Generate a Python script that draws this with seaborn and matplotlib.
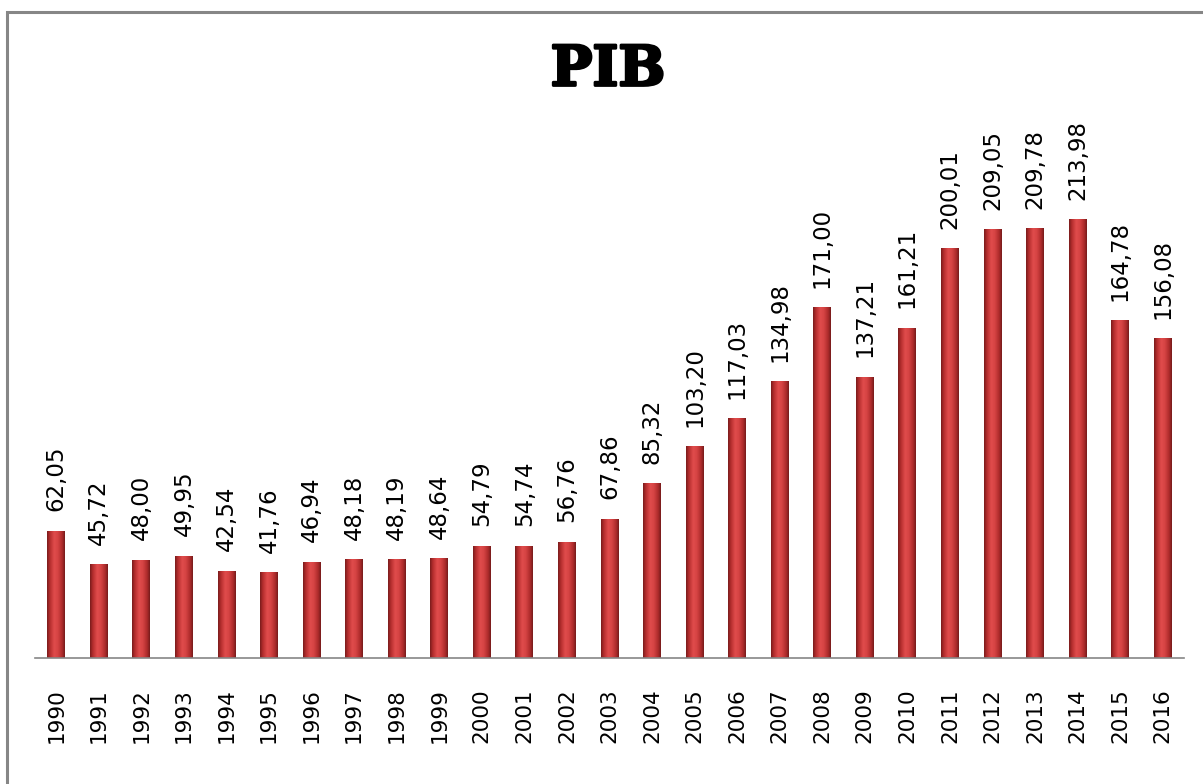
import numpy as np
import pandas as pd
import matplotlib
matplotlib.use("Agg")
import matplotlib.pyplot as plt
import matplotlib.patheffects as pe
import seaborn as sns
from matplotlib.colors import LinearSegmentedColormap
from matplotlib.patches import Rectangle

# data
years = [str(y) for y in range(1990, 2017)]
pib = [62.05, 45.72, 48.00, 49.95, 42.54, 41.76, 46.94, 48.18, 48.19, 48.64,
       54.79, 54.74, 56.76, 67.86, 85.32, 103.20, 117.03, 134.98, 171.00, 137.21,
       161.21, 200.01, 209.05, 209.78, 213.98, 164.78, 156.08]

df = pd.DataFrame({"Year": years, "PIB": pib})

sns.set_style("white")
plt.rcParams["font.family"] = ["DejaVu Sans"]

fig = plt.figure(figsize=(12.03, 7.84), dpi=100)
ax = fig.add_axes([35 / 1203, 126 / 784, 1149 / 1203, 512.5 / 784])

sns.barplot(x="Year", y="PIB", data=df, color="#c83535", width=0.42,
            edgecolor="none", ax=ax)

# fake 3D cylinder look: horizontal gradient clipped to each bar
cmap = LinearSegmentedColormap.from_list(
    "bar", [(0, "#7a1c1c"), (0.15, "#b32d2d"), (0.4, "#e04c4c"),
            (0.6, "#d64444"), (0.85, "#ad2b2b"), (1, "#771b1b")])
grad = np.linspace(0, 1, 64).reshape(1, -1)
for p in ax.patches:
    x, w, h = p.get_x(), p.get_width(), p.get_height()
    im = ax.imshow(grad, cmap=cmap, aspect="auto", extent=[x, x + w, 0, h],
                   zorder=p.get_zorder() + 0.1)
    im.set_clip_path(p)

ax.set_xlim(-0.5, len(years) - 0.5)
ax.set_ylim(0, 250)

ax.bar_label(ax.containers[0], labels=[f"{v:.2f}".replace(".", ",") for v in pib],
             rotation=90, padding=14, fontsize=16.5, color="black")

ax.set_xlabel("")
ax.set_ylabel("")
ax.set_yticks([])
ax.tick_params(axis="x", length=0, pad=22, labelsize=15.5, labelrotation=90,
               labelcolor="black")
for s in ["top", "right", "left"]:
    ax.spines[s].set_visible(False)
ax.spines["bottom"].set_color("#868686")
ax.spines["bottom"].set_linewidth(1.2)

fig.text(608 / 1203, 1 - 70 / 784, "PIB", ha="center", va="center",
         fontsize=40, fontweight="bold", family="DejaVu Serif", color="black",
         path_effects=[pe.withStroke(linewidth=2, foreground="black")])

# chart border (gray frame, cut off on right and bottom)
fig.patches.append(Rectangle((7 / 1203, -0.1), 1.2, 1 - 12 / 784 + 0.1,
                             transform=fig.transFigure, fill=False,
                             edgecolor="#868686", linewidth=2.2))

fig.savefig("out.png", dpi=100)
